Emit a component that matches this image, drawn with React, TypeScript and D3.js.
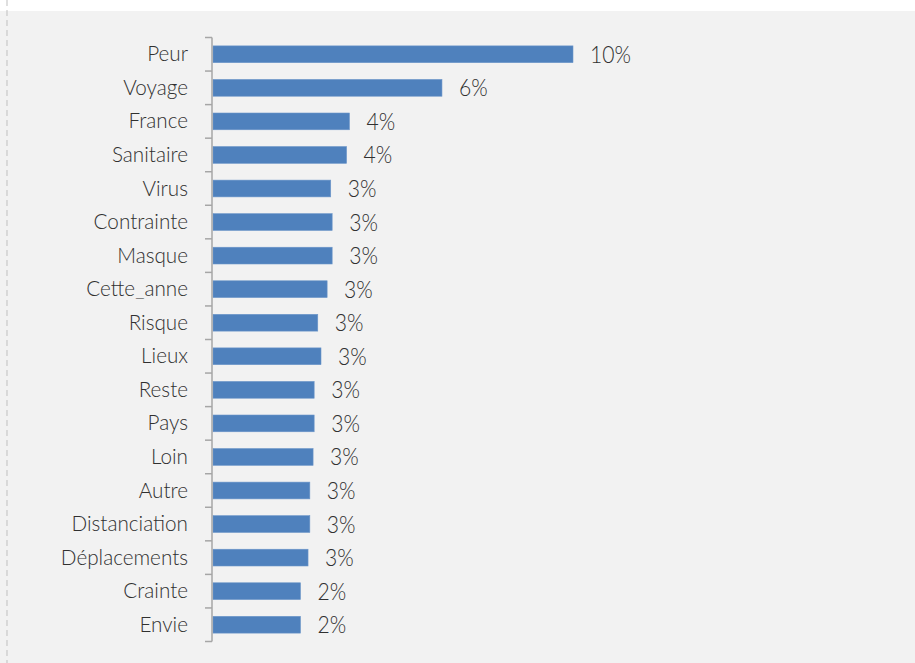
import React from "react";
import * as d3 from "d3";

const categories = [
  "Peur", "Voyage", "France", "Sanitaire", "Virus", "Contrainte", "Masque",
  "Cette_anne", "Risque", "Lieux", "Reste", "Pays", "Loin", "Autre",
  "Distanciation", "Déplacements", "Crainte", "Envie",
];
const values = [
  10.0, 6.36, 3.79, 3.71, 3.27, 3.31, 3.31, 3.17, 2.91, 3.0, 2.81, 2.81, 2.78,
  2.69, 2.69, 2.64, 2.43, 2.43,
];

const W = 915;
const H = 663;
const FONT = "Lato, 'Open Sans', sans-serif";

export default function App() {
  const x = d3.scaleLinear().domain([0, 10]).range([213, 573]);
  const y = d3.scaleBand<string>().domain(categories).range([37.5, 641.5]).paddingInner(0.5).paddingOuter(0.25);
  const step = y.step();
  const y0 = 37.5;
  const ticks = d3.range(categories.length + 1).map((i) => y0 + i * step);
  const sxCat = 0.94;
  const sxVal = 0.88;

  return (
    <div style={{ position: "absolute", left: 0, top: 0 }}>
      <svg width={W} height={H} style={{ display: "block" }}>
        <rect x={0} y={0} width={W} height={H} fill="#ffffff" />
        <rect x={0} y={11} width={W} height={H - 11} fill="#f2f2f2" />
        <line x1={7} x2={7} y1={0} y2={H} stroke="#bfbfbf" strokeWidth={1} strokeDasharray="6,4" />
        {categories.map((c, i) => (
          <rect
            key={c}
            x={x(0)}
            y={y(c)}
            width={x(values[i]) - x(0)}
            height={y.bandwidth()}
            fill="#4f81bd"
            stroke="#6d96c9"
            strokeWidth={0.6}
          />
        ))}
        <line x1={212} x2={212} y1={y0} y2={y0 + step * categories.length} stroke="#a6a6a6" strokeWidth={1.5} />
        {ticks.map((t, i) => (
          <line key={i} x1={205} x2={212} y1={t} y2={t} stroke="#a6a6a6" strokeWidth={1.5} />
        ))}
        {categories.map((c) => {
          const cy = (y(c) as number) + y.bandwidth() / 2;
          return (
            <text
              key={"l" + c}
              transform={`translate(188,${cy + 7}) scale(${sxCat},1)`}
              textAnchor="end"
              fontFamily={FONT}
              fontWeight={300}
              fontSize={22}
              fill="#303030"
            >
              {c}
            </text>
          );
        })}
        {categories.map((c, i) => {
          const cy = (y(c) as number) + y.bandwidth() / 2;
          return (
            <text
              key={"v" + c}
              transform={`translate(${x(values[i]) + 17},${cy + 8.5}) scale(${sxVal},1)`}
              textAnchor="start"
              fontFamily={FONT}
              fontWeight={300}
              fontSize={24}
              fill="#303030"
            >
              {`${Math.round(values[i])}%`}
            </text>
          );
        })}
      </svg>
    </div>
  );
}
